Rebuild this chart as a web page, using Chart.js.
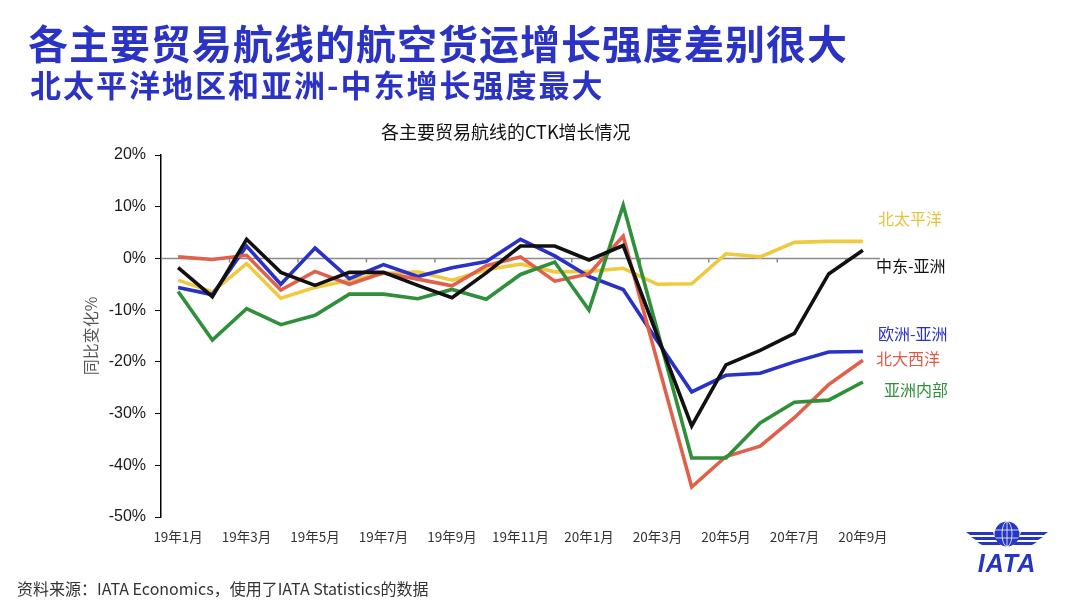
<!DOCTYPE html>
<html>
<head>
<meta charset="utf-8">
<script src="https://cdn.jsdelivr.net/npm/chart.js@4"></script>
<style>
  body { margin: 0; background: #fff; font-family: "Noto Sans CJK SC", sans-serif; }
  #wrap { position: relative; width: 1080px; height: 607px; overflow: hidden; }
  #cv { position: absolute; left: 0; top: 0; }
  .t { position: absolute; white-space: nowrap; }
  #h1 { left: 28px; top: 17px; font-size: 40px; font-weight: bold; color: #2b33c4; letter-spacing: 1px; line-height: 50px; }
  #h2 { left: 30px; top: 64px; font-size: 31px; font-weight: bold; color: #2b33c4; letter-spacing: 2px; line-height: 40px; }
  #ctitle { left: 381px; top: 120px; font-size: 18px; color: #111; line-height: 22px; }
  #src { left: 17px; top: 578px; font-size: 16px; color: #333; line-height: 20px; }
  .lab { font-size: 16px; line-height: 20px; }
</style>
</head>
<body>
<div id="wrap">
  <canvas id="cv" width="1080" height="607"></canvas>
  <div class="t" id="h1">各主要贸易航线的航空货运增长强度差别很大</div>
  <div class="t" id="h2">北太平洋地区和亚洲-中东增长强度最大</div>
  <div class="t" id="ctitle">各主要贸易航线的CTK增长情况</div>
  <div class="t lab" style="left:878px;top:208px;color:#e8c23a">北太平洋</div>
  <div class="t lab" style="left:876px;top:255px;color:#111">中东-亚洲</div>
  <div class="t lab" style="left:878px;top:323px;color:#2a31c4">欧洲-亚洲</div>
  <div class="t lab" style="left:876px;top:348px;color:#dd5a48">北大西洋</div>
  <div class="t lab" style="left:884px;top:379px;color:#2f8f3a">亚洲内部</div>
  <div class="t" id="src">资料来源：IATA Economics，使用了IATA Statistics的数据</div>
  <svg class="t" style="left:962px;top:514px" width="90" height="66" viewBox="0 0 90 66">
    <circle cx="45" cy="20" r="12.5" fill="#2436c2"/>
    <g stroke="#fff" stroke-width="0.8" fill="none">
      <ellipse cx="45" cy="20" rx="5" ry="12.5"/>
      <line x1="33" y1="16" x2="57" y2="16"/>
      <line x1="33" y1="24" x2="57" y2="24"/>
      <line x1="45" y1="7.5" x2="45" y2="32.5"/>
    </g>
    <g fill="#2436c2">
      <path d="M4 18 L31 18 L32 21 L8 21 Z"/>
      <path d="M9 23 L33 23 L35 26 L14 26 Z"/>
      <path d="M15 28 L36 28 L39 31 L20 31 Z"/>
      <path d="M86 18 L59 18 L58 21 L82 21 Z"/>
      <path d="M81 23 L57 23 L55 26 L76 26 Z"/>
      <path d="M75 28 L54 28 L51 31 L70 31 Z"/>
    </g>
    <text x="45" y="58" text-anchor="middle" font-family="Liberation Sans" font-weight="bold" font-style="italic" font-size="25" letter-spacing="1" fill="#2436c2">IATA</text>
  </svg>
</div>
<script>
var months = ['19年1月','19年2月','19年3月','19年4月','19年5月','19年6月','19年7月','19年8月','19年9月','19年10月','19年11月','19年12月',
              '20年1月','20年2月','20年3月','20年4月','20年5月','20年6月','20年7月','20年8月','20年9月'];

var northPacific = [-4.2,-6.5,-1.0,-7.7,-5.6,-4.2,-2.9,-2.6,-4.2,-2.2,-1.1,-2.6,-2.5,-1.9,-5.0,-4.9,0.9,0.3,3.1,3.3,3.3];
var middleEastAsia = [-1.8,-7.4,3.7,-2.7,-5.2,-2.7,-2.7,-5.2,-7.6,-2.8,2.4,2.4,-0.3,2.5,-15.0,-32.4,-20.6,-17.8,-14.5,-3.0,1.6];
var europeAsia = [-5.6,-7.0,2.4,-5.0,2.0,-3.9,-1.2,-3.5,-1.8,-0.6,3.7,0.5,-3.5,-6.0,-16.0,-25.8,-22.6,-22.2,-20.0,-18.1,-18.0];
var northAtlantic = [0.3,-0.2,0.6,-6.1,-2.5,-5.0,-2.8,-4.0,-5.3,-1.4,0.3,-4.4,-3.0,4.3,-20.0,-44.2,-38.3,-36.3,-30.8,-24.4,-19.7];
var withinAsia = [-6.4,-15.8,-9.7,-12.8,-11.0,-6.9,-6.9,-7.8,-6.0,-7.9,-3.1,-0.7,-10.0,10.3,-14.0,-38.6,-38.6,-31.8,-27.8,-27.4,-23.9];

var yTicks = [20, 10, 0, -10, -20, -30, -40, -50];

// zero axis with small tick marks between every second month
var zeroLine = {
  id: 'zeroLine',
  beforeDatasetsDraw: function(chart) {
    var ctx = chart.ctx, area = chart.chartArea;
    var x = chart.scales.x, y = chart.scales.y;
    var y0 = y.getPixelForValue(0);
    ctx.save();
    ctx.strokeStyle = '#8a8a8a';
    ctx.lineWidth = 1.5;
    ctx.beginPath();
    ctx.moveTo(area.left, y0);
    ctx.lineTo(area.right, y0);
    for (var i = 1; i < months.length - 1; i += 2) {
      var xm = (x.getPixelForValue(i) + x.getPixelForValue(i + 1)) / 2;
      ctx.moveTo(xm, y0);
      ctx.lineTo(xm, y0 + 4);
    }
    ctx.stroke();
    ctx.restore();
  }
};

function line(label, data, color, order) {
  return { label: label, data: data, borderColor: color, backgroundColor: color,
           borderWidth: 3.6, pointRadius: 0, tension: 0, order: order };
}

new Chart(document.getElementById('cv'), {
  type: 'line',
  data: {
    labels: months,
    datasets: [
      line('中东-亚洲', middleEastAsia, '#111111', 0),
      line('亚洲内部', withinAsia, '#2f8f3a', 1),
      line('北大西洋', northAtlantic, '#e0604a', 2),
      line('欧洲-亚洲', europeAsia, '#2a31c8', 3),
      line('北太平洋', northPacific, '#efc93f', 4)
    ]
  },
  options: {
    responsive: false,
    animation: false,
    layout: { padding: { left: 60, right: 200, top: 155, bottom: 40 } },
    plugins: { legend: { display: false }, tooltip: { enabled: false } },
    scales: {
      x: {
        type: 'category',
        offset: true,
        grid: { display: false, drawTicks: false },
        border: { display: false },
        ticks: {
          autoSkip: false, maxRotation: 0, padding: 12, color: '#333',
          font: { family: 'Noto Sans CJK SC', size: 13.5 },
          callback: function(v, i) { return i % 2 === 0 ? months[i] : ''; }
        },
        afterFit: function(s) { s.height = 50; }
      },
      y: {
        min: -50, max: 20,
        afterBuildTicks: function(s) { s.ticks = yTicks.map(function(v) { return { value: v }; }); },
        grid: { drawOnChartArea: false, drawTicks: true, tickLength: 6, color: '#000', lineWidth: 1 },
        border: { display: true, color: '#000', width: 1.5 },
        ticks: {
          padding: 9, color: '#1a1a1a',
          font: { family: 'Liberation Sans', size: 16 },
          callback: function(v) { return v + '%'; }
        },
        title: {
          display: true, text: '同比变化%', color: '#555',
          font: { family: 'Noto Sans CJK SC', size: 16 },
          padding: { top: 21, bottom: 0 }
        },
        afterFit: function(s) { s.width = 101; }
      }
    }
  },
  plugins: [zeroLine]
});
</script>
</body>
</html>
